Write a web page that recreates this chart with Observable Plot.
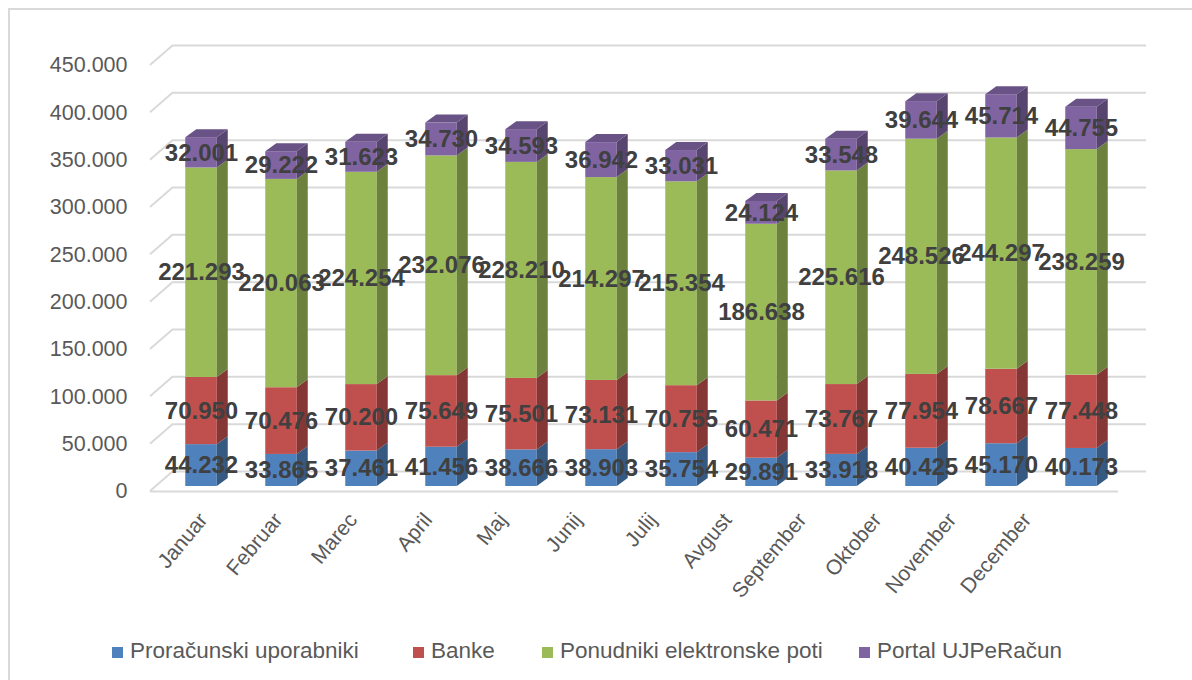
<!DOCTYPE html>
<html>
<head>
<meta charset="utf-8">
<script src="https://cdn.jsdelivr.net/npm/d3@7"></script>
<script src="https://cdn.jsdelivr.net/npm/@observablehq/plot@0.6"></script>
<style>
  html, body { margin: 0; padding: 0; background: #fff; overflow: hidden; width: 1192px; height: 680px; }
  #frame { position: absolute; left: 8px; top: 8px; width: 1200px; height: 700px; border-top: 2px solid #d9d9d9; border-left: 2px solid #d9d9d9; }
  #chart { position: absolute; left: 0; top: 0; }
  #legend { position: absolute; left: 0; top: 639px; width: 1192px; height: 26px;
            font-family: "Liberation Sans", Arial, sans-serif; font-size: 22.5px; line-height: 23px; color: #595959; white-space: nowrap; }
  #legend .item { position: absolute; top: 0; display: flex; align-items: center; }
  #legend .sw { width: 11px; height: 11px; margin-right: 7px; position: relative; top: 2px; }
</style>
</head>
<body>
<div id="frame"></div>
<div id="chart"></div>
<div id="legend"></div>
<script>
const months = ["Januar","Februar","Marec","April","Maj","Junij","Julij","Avgust","September","Oktober","November","December"];
const series = ["Proračunski uporabniki","Banke","Ponudniki elektronske poti","Portal UJPeRačun"];
const proracunski = [44232, 33865, 37461, 41456, 38666, 38903, 35754, 29891, 33918, 40425, 45170, 40173];
const banke       = [70950, 70476, 70200, 75649, 75501, 73131, 70755, 60471, 73767, 77954, 78667, 77448];
const ponudniki   = [221293, 220063, 224254, 232076, 228210, 214297, 215354, 186638, 225616, 248526, 244297, 238259];
const portal      = [32001, 29222, 31623, 34730, 34593, 36942, 33031, 24124, 33548, 39644, 45714, 44755];
const yTicks = [0, 50000, 100000, 150000, 200000, 250000, 300000, 350000, 400000, 450000];
const colors = ["#4F81BD", "#C0504D", "#9BBB59", "#8064A2"];

const seriesValues = [proracunski, banke, ponudniki, portal];
const data = series.flatMap((s, k) => months.map((m, i) => ({month: m, series: s, value: seriesValues[k][i]})));

const fmt = v => d3.format(",")(v).replace(/,/g, ".");

// layout / style constants
const INSET = 24.25;
const DX = 11, DY = 8;
const WALL_DX = 23, WALL_DY = 20;
const FRONT_DY = 5;
const LABEL_SQUEEZE = 0.936;
const LEGEND_LEFT = [112, 413, 542, 859];
const GRID = "#d9d9d9";
const TEXT_GRAY = "#595959";
const FONT = "Liberation Sans, Arial, sans-serif";

function barDepth(index, scales) {
  const sx = scales.x, sy = scales.y;
  const bw = sx.bandwidth();
  const g = d3.create("svg:g");
  months.forEach((m, i) => {
    const xl = sx(m) + INSET, xr = sx(m) + bw - INSET;
    let cum = 0;
    seriesValues.forEach((vals, k) => {
      const y1 = sy(cum), y2 = sy(cum + vals[i]);
      cum += vals[i];
      g.append("path")
        .attr("d", `M${xr},${y1}L${xr + DX},${y1 - DY}L${xr + DX},${y2 - DY}L${xr},${y2}Z`)
        .attr("fill", d3.color(colors[k]).darker(1.05).formatHex());
    });
    const yt = sy(cum);
    g.append("path")
      .attr("d", `M${xl},${yt}L${xl + DX},${yt - DY}L${xr + DX},${yt - DY}L${xr},${yt}Z`)
      .attr("fill", d3.color(colors[colors.length - 1]).darker(0.55).formatHex());
  });
  return g.node();
}

function gridDiagonals(index, scales, values, dimensions) {
  const sy = scales.y;
  const x0 = dimensions.marginLeft - 8;
  const g = d3.create("svg:g").attr("stroke", GRID).attr("stroke-width", 2).attr("fill", "none");
  yTicks.forEach(v => {
    const y = sy(v) + FRONT_DY;
    g.append("line").attr("x1", x0).attr("y1", y).attr("x2", x0 + WALL_DX).attr("y2", y - WALL_DY);
  });
  return g.node();
}

const chart = Plot.plot({
  width: 1192,
  height: 610,
  marginLeft: 158,
  marginRight: 68,
  marginTop: 60,
  marginBottom: 124,
  x: {domain: months, padding: 0, axis: null},
  y: {domain: [0, 450000], axis: null},
  color: {domain: series, range: colors},
  style: {fontFamily: FONT, background: "transparent", overflow: "visible"},
  marks: [
    Plot.ruleY(yTicks, {stroke: GRID, strokeWidth: 2, dy: -(WALL_DY - FRONT_DY), insetLeft: 15, insetRight: -22}),
    gridDiagonals,
    Plot.ruleY([0], {stroke: GRID, strokeWidth: 2, dy: FRONT_DY, insetLeft: -8, insetRight: 6}),
    Plot.barY(data, {x: "month", y: "value", fill: "series", insetLeft: INSET, insetRight: INSET}),
    barDepth,
    Plot.axisY(yTicks, {tickSize: 0, tickPadding: 31, dy: FRONT_DY, fontSize: 21.5, color: TEXT_GRAY, tickFormat: v => v === 0 ? "0" : fmt(v), label: null}),
    Plot.text(months, {x: d => d, y: 0, text: d => d, rotate: -50, textAnchor: "end", lineAnchor: "bottom",
      dx: 7, dy: 34, fontSize: 21, fill: TEXT_GRAY,
      render(index, scales, values, dimensions, context, next) {
        const c0 = values.x[index[0]];
        const x = Float64Array.from(values.x, v => c0 + (v - c0) * LABEL_SQUEEZE);
        return next(index, scales, {...values, x}, dimensions, context);
      }}),
    Plot.text(data, Plot.stackY({x: "month", y: "value", z: "series", text: d => fmt(d.value),
      fontSize: 24, fontWeight: "bold", fill: "#404040"}))
  ]
});
document.getElementById("chart").appendChild(chart);

const legend = d3.select("#legend");
series.forEach((s, k) => {
  const item = legend.append("div").attr("class", "item").style("left", LEGEND_LEFT[k] + "px");
  item.append("span").attr("class", "sw").style("background", colors[k]);
  item.append("span").text(s);
});
</script>
</body>
</html>
